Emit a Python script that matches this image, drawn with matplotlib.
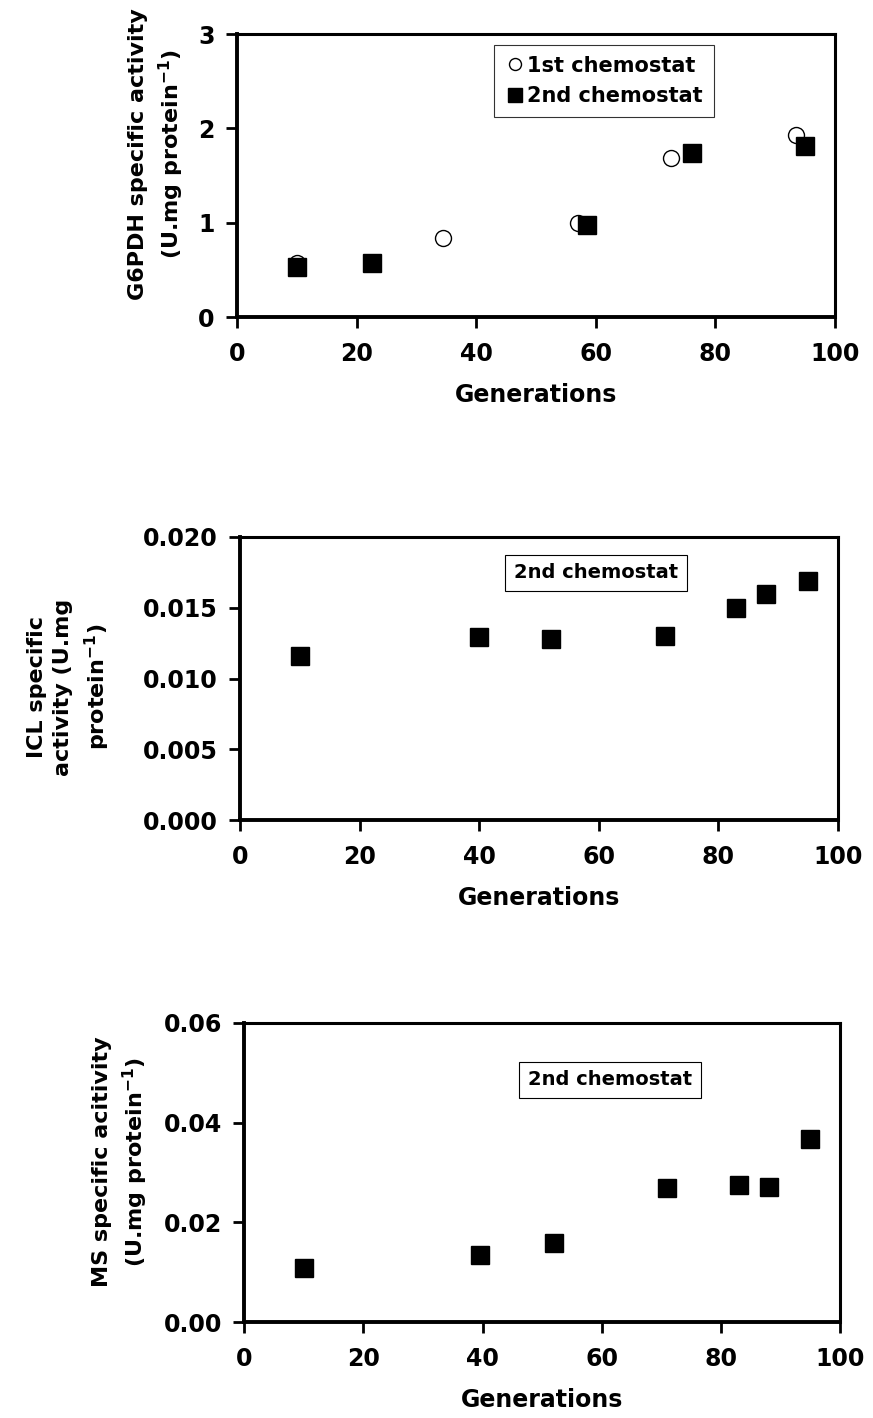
import matplotlib.pyplot as plt

plt.rcParams["font.family"] = "DejaVu Sans"
plt.rcParams["font.weight"] = "bold"
plt.rcParams["mathtext.default"] = "bf"

# G6PDH panel
g6_first_x = [10, 34.5, 57, 72.5, 93.5]
g6_first_y = [0.57, 0.84, 1.00, 1.69, 1.93]
g6_second_x = [10, 22.5, 58.5, 76, 95]
g6_second_y = [0.53, 0.57, 0.98, 1.74, 1.81]

# ICL panel
icl_x = [10, 40, 52, 71, 83, 88, 95]
icl_y = [0.0116, 0.0129, 0.0128, 0.0130, 0.0150, 0.0160, 0.0169]

# MS panel
ms_x = [10, 39.5, 52, 71, 83, 88, 95]
ms_y = [0.0109, 0.0135, 0.0158, 0.0268, 0.0274, 0.0271, 0.0367]

gen_ticks = [0, 20, 40, 60, 80, 100]

fig = plt.figure(figsize=(8.73, 14.18), dpi=100)
ax1 = fig.add_axes([0.2715, 0.7764, 0.685, 0.1996])
ax2 = fig.add_axes([0.275, 0.4217, 0.685, 0.1996])
ax3 = fig.add_axes([0.2795, 0.0677, 0.683, 0.2109])


def style(ax, yticks, fmt):
    ax.set_xlim(0, 100)
    ax.set_xticks(gen_ticks)
    ax.set_ylim(yticks[0], yticks[-1])
    ax.set_yticks(yticks)
    ax.set_yticklabels([fmt.format(v) for v in yticks])
    for name, s in ax.spines.items():
        s.set_linewidth(2.8 if name in ("left", "bottom") else 2.2)
    ax.tick_params(direction="out", length=8, width=2, labelsize=17, pad=8)
    ax.tick_params(axis="x", pad=10)
    for lab in ax.get_xticklabels() + ax.get_yticklabels():
        lab.set_fontweight("bold")
    ax.set_xlabel("Generations", fontsize=17, fontweight="bold", labelpad=12)


def ylab(ax, text, x, y):
    ax.set_ylabel(text, fontsize=16, fontweight="bold", linespacing=1.4)
    ax.yaxis.set_label_coords(x, y)


ax1.plot(g6_first_x, g6_first_y, "o", ms=11.5, mfc="white", mec="black", mew=1.0,
         label="1st chemostat")
ax1.plot(g6_second_x, g6_second_y, "s", ms=13, color="black", label="2nd chemostat")
style(ax1, [0, 1, 2, 3], "{:g}")
ylab(ax1, "G6PDH specific activity\n(U.mg protein$^{-1}$)", -0.085, 0.576)
leg = ax1.legend(loc="upper left", bbox_to_anchor=(0.43, 0.96), borderaxespad=0,
                 frameon=True, fancybox=False, edgecolor="black",
                 prop={"size": 15, "weight": "bold"},
                 handletextpad=0.1, handlelength=1.0, borderpad=0.5, labelspacing=0.5,
                 markerscale=0.75)
leg.get_frame().set_linewidth(0.8)

ax2.plot(icl_x, icl_y, "s", ms=13, color="black")
style(ax2, [0, 0.005, 0.010, 0.015, 0.020], "{:.3f}")
ylab(ax2, "ICL specific\nactivity (U.mg\nprotein$^{-1}$)", -0.215, 0.47)
ax2.text(0.595, 0.873, "2nd chemostat", transform=ax2.transAxes, ha="center",
         va="center", fontsize=14, fontweight="bold",
         bbox=dict(boxstyle="square,pad=0.45", fc="white", ec="black", lw=0.8))

ax3.plot(ms_x, ms_y, "s", ms=13, color="black")
style(ax3, [0, 0.02, 0.04, 0.06], "{:.2f}")
ylab(ax3, "MS specific acitivity\n(U.mg protein$^{-1}$)", -0.158, 0.535)
ax3.text(0.614, 0.81, "2nd chemostat", transform=ax3.transAxes, ha="center",
         va="center", fontsize=14, fontweight="bold",
         bbox=dict(boxstyle="square,pad=0.45", fc="white", ec="black", lw=0.8))

fig.savefig("out.png", dpi=100)
